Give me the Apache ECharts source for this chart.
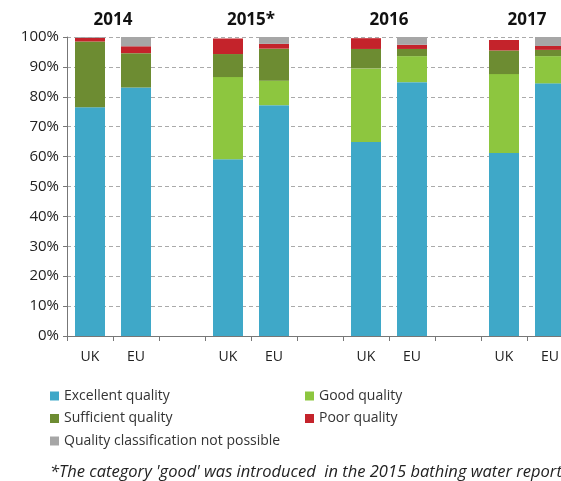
<!DOCTYPE html>
<html>
<head>
<meta charset="utf-8">
<script src="https://cdn.jsdelivr.net/npm/echarts@6/dist/echarts.min.js"></script>
<style>
html, body { margin: 0; padding: 0; background: #fff; }
#chart { width: 561px; height: 481px; }
</style>
</head>
<body>
<div id="chart"></div>
<script>
// categories: UK / EU pairs per year, with an empty slot between years
var categories = ['UK', 'EU', '', 'UK', 'EU', '', 'UK', 'EU', '', 'UK', 'EU', ''];
var years = ['2014', '2015*', '2016', '2017'];
var yearPos = [1, 4, 7, 10]; // boundary between UK and EU of each year

var excellent = [76.5, 83.1, null, 59.1, 77.2, null, 64.9, 84.9, null, 61.2, 84.5, null];
var good = [0, 0, null, 27.5, 8.2, null, 24.6, 8.7, null, 26.4, 9.1, null];
var sufficient = [22.0, 11.5, null, 7.7, 10.7, null, 6.5, 2.4, null, 7.9, 2.1, null];
var poor = [1.2, 2.3, null, 5.2, 1.6, null, 3.6, 1.4, null, 3.5, 1.3, null];
var notPossible = [0.3, 3.1, null, 0, 2.3, null, 0, 2.6, null, 0, 3.0, null];

var font = 'Open Sans';
var chart = echarts.init(document.getElementById('chart'));

function bar(name, data, color) {
	return {
		name: name,
		type: 'bar',
		stack: 'q',
		barWidth: 30,
		itemStyle: { color: color },
		data: data
	};
}

var legendText = { fontSize: 14, color: '#333', fontFamily: font };

var option = {
	animation: false,
	textStyle: { fontFamily: font },
	// plot runs past the right edge, as in the cropped original
	grid: { left: 67, top: 37, bottom: 145, right: -58, outerBoundsMode: 'none' },
	title: {
		text: "*The category 'good' was introduced  in the 2015 bathing water report",
		left: 50,
		top: 464,
		padding: 0,
		textStyle: { fontFamily: font, fontSize: 16.5, fontStyle: 'italic', fontWeight: 'normal', color: '#222' }
	},
	legend: [{
		left: 50, top: 389, orient: 'vertical', itemGap: 8.5, padding: 0,
		itemWidth: 9, itemHeight: 9, icon: 'rect',
		textStyle: legendText,
		data: ['Excellent quality', 'Sufficient quality', 'Quality classification not possible']
	}, {
		left: 305, top: 389, orient: 'vertical', itemGap: 8.5, padding: 0,
		itemWidth: 9, itemHeight: 9, icon: 'rect',
		textStyle: legendText,
		data: ['Good quality', 'Poor quality']
	}],
	xAxis: [{
		type: 'category',
		data: categories,
		axisLine: { lineStyle: { color: '#777' } },
		axisTick: { show: true, length: 5, lineStyle: { color: '#777' } },
		axisLabel: { color: '#222', fontSize: 14, margin: 14 }
	}, {
		type: 'value',
		position: 'top',
		min: 0, max: 12, interval: 1,
		axisLine: { show: false },
		axisTick: { show: false },
		splitLine: { show: false },
		axisLabel: {
			margin: 8,
			fontSize: 17, fontWeight: 'bold', color: '#111',
			formatter: function (v) {
				var i = yearPos.indexOf(v);
				return i >= 0 ? years[i] : '';
			}
		}
	}],
	yAxis: {
		type: 'value',
		min: 0, max: 100, interval: 10,
		axisLine: { show: true, lineStyle: { color: '#777' } },
		axisTick: { show: true, length: 4, lineStyle: { color: '#777' } },
		axisLabel: { formatter: '{value}%', color: '#222', fontSize: 15, margin: 8 },
		splitLine: { lineStyle: { type: [4, 3], color: '#aaa' } }
	},
	series: [
		bar('Excellent quality', excellent, '#3fa8c8'),
		bar('Good quality', good, '#8dc63f'),
		bar('Sufficient quality', sufficient, '#6d8c32'),
		bar('Poor quality', poor, '#c4232b'),
		bar('Quality classification not possible', notPossible, '#a6a6a6')
	]
};
chart.setOption(option);
</script>
</body>
</html>
